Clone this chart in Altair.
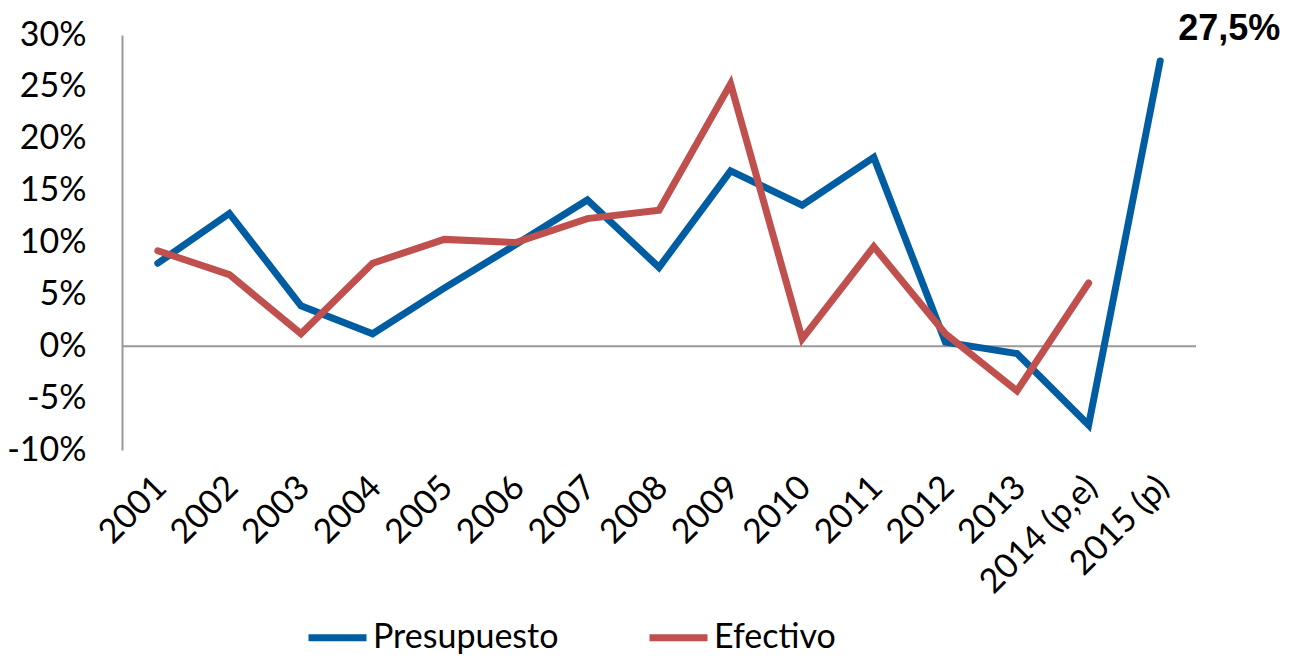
import altair as alt
import pandas as pd

years = ["2001", "2002", "2003", "2004", "2005", "2006", "2007", "2008",
         "2009", "2010", "2011", "2012", "2013", "2014 (p,e)", "2015 (p)"]
presupuesto = [8.0, 12.8, 3.9, 1.2, 5.6, 9.8, 14.1, 7.6, 16.9, 13.6, 18.2, 0.4, -0.7, -7.6, 27.5]
efectivo = [9.2, 6.9, 1.2, 8.0, 10.3, 10.0, 12.3, 13.1, 25.3, 0.7, 9.6, 1.2, -4.3, 6.1, None]
series = ["Presupuesto", "Efectivo"]
colors = ["#005DA2", "#C0504D"]
y_ticks = [-10, -5, 0, 5, 10, 15, 20, 25, 30]

rows = []
for i, yr in enumerate(years):
    rows.append({"year": yr, "serie": "Presupuesto", "value": presupuesto[i]})
    if efectivo[i] is not None:
        rows.append({"year": yr, "serie": "Efectivo", "value": efectivo[i]})
df = pd.DataFrame(rows)

FONT = "Lato"

x_enc = alt.X("year:N", sort=years, scale=alt.Scale(type="point", padding=0.5),
              axis=alt.Axis(title=None, labelAngle=-45, domain=False, ticks=False,
                            labelFontSize=34, labelFont=FONT, labelColor="#000",
                            labelPadding=20, labelOffset=-9))
y_enc = alt.Y("value:Q", scale=alt.Scale(domain=[-10, 30], nice=False),
              axis=alt.Axis(title=None, values=y_ticks, labelExpr="datum.value + '%'",
                            grid=False, ticks=False, domain=True, domainColor="#999999",
                            domainWidth=2, labelFontSize=34, labelFont=FONT,
                            labelColor="#000", labelPadding=36))

lines = alt.Chart(df).mark_line(strokeWidth=7, strokeCap="round", strokeJoin="miter").encode(
    x=x_enc,
    y=y_enc,
    color=alt.Color("serie:N", scale=alt.Scale(domain=series, range=colors),
                    sort=series,
                    legend=alt.Legend(title=None, orient="none", direction="horizontal",
                                      legendX=183, legendY=570,
                                      symbolType="stroke", symbolSize=3364,
                                      symbolStrokeWidth=7, labelFontSize=34,
                                      labelFont=FONT, labelColor="#000",
                                      labelLimit=400,
                                      labelOffset=3, columnPadding=76)),
    detail="serie:N",
)

zero = alt.Chart(pd.DataFrame({"z": [0]})).mark_rule(color="#999999", strokeWidth=2).encode(
    y=alt.Y("z:Q"),
)

ann_df = pd.DataFrame({"year": ["2015 (p)"], "value": [27.5], "label": ["27,5%"]})
ann = alt.Chart(ann_df).mark_text(align="left", baseline="middle", dx=18, dy=-32,
                                  fontSize=36, fontWeight="bold",
                                  font="Liberation Sans", color="#000").encode(
    x=alt.X("year:N", sort=years),
    y=alt.Y("value:Q"),
    text="label:N",
)

chart = alt.layer(zero, lines, ann).properties(
    width=1074, height=415,
    autosize=alt.AutoSizeParams(type="none"),
    padding={"left": 114, "top": 27, "right": 84, "bottom": 204},
).configure_view(stroke=None)

chart.save("out.html", embed_options={"renderer": "svg", "actions": False})
